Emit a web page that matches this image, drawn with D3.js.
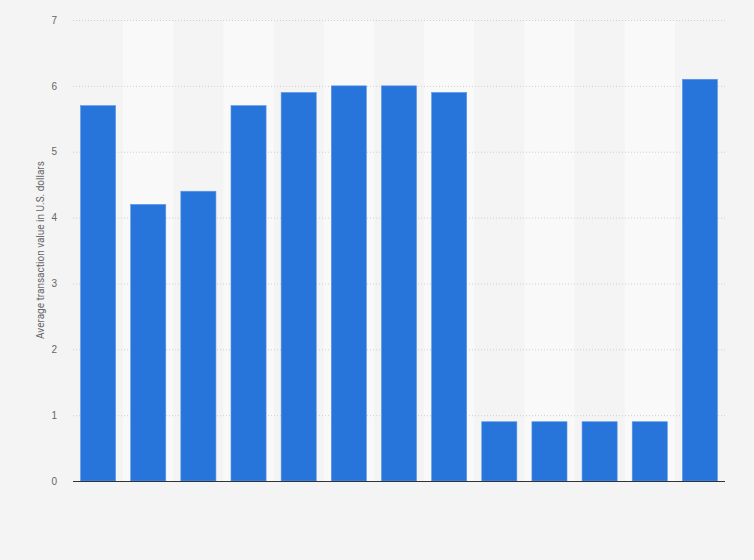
<!DOCTYPE html>
<html>
<head>
<meta charset="utf-8">
<script src="https://cdn.jsdelivr.net/npm/d3@7"></script>
<style>
  body { margin: 0; background: #f4f4f4; }
  svg { display: block; font-family: Roboto, Arial, sans-serif; }
</style>
</head>
<body>
<div id="chart"></div>
<script>
// Categories are not labelled in the picture, so they are plain indices
const categories = ['c1', 'c2', 'c3', 'c4', 'c5', 'c6', 'c7', 'c8', 'c9', 'c10', 'c11', 'c12', 'c13'];
const values = [5.7, 4.2, 4.4, 5.7, 5.9, 6.0, 6.0, 5.9, 0.9, 0.9, 0.9, 0.9, 6.1];
const yTicks = [0, 1, 2, 3, 4, 5, 6, 7];

const width = 754, height = 560;
const margin = {top: 20, right: 29, bottom: 79, left: 73};
const innerW = width - margin.left - margin.right;
const innerH = height - margin.top - margin.bottom;

const svg = d3.select('#chart')
    .append('svg')
    .attr('width', width)
    .attr('height', height);

svg.append('rect')
    .attr('width', width)
    .attr('height', height)
    .attr('fill', '#f4f4f4');

const g = svg.append('g')
    .attr('transform', `translate(${margin.left},${margin.top})`);

const x = d3.scaleBand()
    .domain(categories)
    .range([0, innerW])
    .paddingInner(0.3)
    .paddingOuter(0.15);

const y = d3.scaleLinear()
    .domain([0, 7])
    .range([innerH, 0]);

// Alternating column stripes
const step = x.step();
g.selectAll('.stripe')
    .data(categories.filter((d, i) => i % 2 === 1))
    .enter()
    .append('rect')
    .attr('class', 'stripe')
    .attr('x', d => x(d) - step * x.paddingInner() / 2)
    .attr('y', 0)
    .attr('width', step)
    .attr('height', innerH)
    .attr('fill', '#f9f9f9');

// Gridlines
g.selectAll('.grid')
    .data(yTicks.filter(d => d > 0))
    .enter()
    .append('line')
    .attr('class', 'grid')
    .attr('x1', 0)
    .attr('x2', innerW)
    .attr('y1', d => y(d) + 0.5)
    .attr('y2', d => y(d) + 0.5)
    .attr('stroke', '#cfcfcf')
    .attr('stroke-width', 1)
    .attr('stroke-dasharray', '1,2');

// Y axis
const yAxis = g.append('g')
    .call(d3.axisLeft(y).tickValues(yTicks).tickFormat(d3.format('d')).tickSize(0).tickPadding(16));
yAxis.select('.domain').remove();
yAxis.selectAll('text')
    .attr('fill', '#666')
    .style('font-size', '10px');

// Bars
g.selectAll('.bar')
    .data(values)
    .enter()
    .append('rect')
    .attr('class', 'bar')
    .attr('x', (d, i) => x(categories[i]))
    .attr('y', d => y(d))
    .attr('width', x.bandwidth())
    .attr('height', d => innerH - y(d))
    .attr('fill', '#2775db')
    .attr('stroke', '#5b97e6')
    .attr('stroke-width', 0.6);

// Baseline
g.append('line')
    .attr('x1', 0)
    .attr('x2', innerW)
    .attr('y1', innerH + 0.5)
    .attr('y2', innerH + 0.5)
    .attr('stroke', '#333')
    .attr('stroke-width', 1.2);

// Y label
svg.append('text')
    .attr('transform', 'rotate(-90)')
    .attr('x', -250)
    .attr('y', 44)
    .attr('text-anchor', 'middle')
    .attr('fill', '#666')
    .style('font-size', '10px')
    .text('Average transaction value in U.S. dollars');
</script>
</body>
</html>
